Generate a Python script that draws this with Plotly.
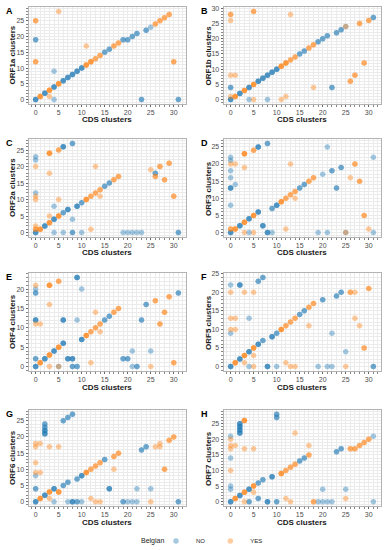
import plotly.graph_objects as go

# ---------------- data: (CDS cluster, ORF cluster, number of overlapping sequences) ----------------
orf1a_no = [(0,0,3),(0,19,2),(2,2,3),(4,4,3),(4,9,1),(4,0,1),(6,6,3),(7,7,3),(8,8,3),(9,9,3),(10,10,3),
            (15,15,2),(16,16,2),(19,19,2),(20,19,2),(21,20,2),(22,21,2),(24,22,2),(25,23,1),(23,0,2),(31,0,2)]
orf1a_yes = [(0,25,2),(5,28,1),(0,12,2),(11,17,1),(3,1,1),(30,12,2),(1,1,3),(3,3,3),(5,5,3),(11,11,3),
             (12,12,3),(13,13,2),(14,14,2),(17,17,2),(18,18,2),(26,24,2),(27,25,2),(28,26,2),(29,27,2)]

orf1b_no = [(0,0,3),(0,4,2),(4,0,1),(8,0,1),(22,4,2),(2,2,3),(4,4,3),(6,6,3),(7,7,3),(8,8,3),(9,9,3),
            (10,10,3),(15,15,2),(16,16,2),(19,19,2),(20,20,2),(21,21,2),(23,22,2),(24,23,2),(25,24,1),(31,27,2)]
orf1b_yes = [(0,28,2),(0,26,1),(5,29,2),(13,28,1),(0,8,1),(1,8,1),(18,4,1),(11,0,1),(12,1,1),(5,0,1),
             (0,1,1),(26,6,2),(27,8,2),(29,12,2),(28,25,2),(30,26,2),(25,24,1),(1,1,3),(3,3,3),(5,5,3),
             (11,11,3),(12,12,3),(13,13,2),(14,14,2),(17,17,2),(18,18,2)]

orf2a_no = [(0,0,3),(0,23,1),(0,22,1),(0,12,1),(6,26,3),(8,27,2),(4,8,1),(8,4,1),(4,0,1),(6,0,1),(8,0,2),
            (10,0,1),(19,0,1),(20,0,1),(21,0,1),(22,0,1),(23,0,1),(31,0,2),(26,18,2),(2,2,3),(4,4,3),
            (6,6,2),(7,7,3),(9,8,3),(10,9,2),(15,14,2),(16,15,2)]
orf2a_yes = [(3,24,3),(5,25,2),(0,20,1),(3,18,1),(0,10,1),(0,11,1),(5,10,1),(0,2,1),(3,5,1),(13,20,1),
             (12,1,1),(25,19,1),(27,20,2),(26,17,2),(28,16,2),(29,21,2),(30,11,2),(1,1,3),(3,3,3),(5,5,3),
             (11,10,3),(12,11,2),(13,12,2),(14,13,2),(17,16,2),(18,17,2),(14,11,1),(0,1,2)]

orf3_no = [(0,0,3),(0,13,3),(0,16,1),(0,18,1),(0,21,1),(0,22,1),(0,8,1),(1,14,1),(6,25,3),(8,26,2),
           (2,2,3),(4,4,3),(6,6,3),(7,2,3),(8,0,3),(9,0,1),(4,0,1),(9,7,2),(10,8,3),(15,13,2),(16,14,2),
           (20,17,1),(22,18,2),(24,19,2),(21,25,1),(23,13,2),(19,0,1),(21,0,1),(25,0,1),(31,22,1),(31,0,1)]
orf3_yes = [(3,23,3),(5,24,2),(0,20,1),(1,20,1),(3,19,1),(13,20,1),(14,10,1),(12,1,1),(3,0,1),(5,0,1),
            (0,1,2),(1,1,3),(3,3,3),(5,5,3),(11,9,3),(12,10,2),(13,11,2),(14,12,2),(17,15,2),(18,16,2),
            (26,16,1),(27,20,2),(28,15,2),(29,5,2),(30,1,1),(25,0,1)]

orf4_no = [(0,0,3),(0,2,2),(0,12,3),(0,19,2),(0,20,1),(2,2,3),(4,4,3),(6,6,3),(5,0,1),(7,2,3),(8,2,3),
           (8,0,2),(9,0,2),(6,12,3),(9,23,3),(10,20,1),(9,12,1),(10,7,3),(15,12,2),(16,13,2),(19,2,2),
           (20,2,2),(21,0,1),(21,4,1),(22,0,2),(23,12,2),(24,16,2),(25,4,1),(31,19,2)]
orf4_yes = [(3,21,3),(5,22,2),(0,21,1),(0,11,1),(1,11,1),(3,16,1),(1,1,3),(3,3,3),(5,5,3),(5,0,1),(3,0,1),
            (12,1,1),(11,8,3),(12,9,2),(13,10,2),(14,11,2),(17,14,2),(18,15,2),(13,14,1),(14,9,1),(25,0,1),
            (26,17,2),(27,11,2),(28,14,2),(29,18,2),(30,1,2)]

orf5_no = [(0,0,3),(0,22,1),(0,9,1),(2,22,3),(6,23,2),(7,24,2),(4,13,1),(4,0,1),(8,0,3),(10,0,1),(2,2,3),
           (4,4,3),(6,6,3),(7,7,2),(9,8,3),(10,9,2),(15,14,2),(16,15,2),(20,18,2),(23,19,2),(24,20,2),
           (22,9,1),(25,4,1),(19,0,1),(21,0,1),(22,0,1),(31,0,2)]
orf5_yes = [(0,20,1),(3,20,1),(5,20,1),(0,13,1),(1,13,1),(0,10,1),(1,10,1),(5,3,1),(3,1,1),(5,0,1),
            (12,1,1),(13,0,1),(14,0,1),(17,11,1),(25,0,1),(26,20,2),(27,20,1),(27,13,1),(28,11,1),(29,5,2),
            (30,21,2),(1,1,3),(3,3,3),(5,5,3),(11,10,3),(12,11,2),(13,12,2),(14,13,2),(17,16,2),(18,17,2)]

orf6_no = [(0,0,3),(0,4,2),(0,8,1),(2,21,3),(2,22,3),(2,23,2),(2,24,2),(6,25,2),(7,26,2),(8,27,2),(2,2,3),
           (4,4,3),(6,5,2),(7,6,2),(9,7,2),(10,8,3),(15,13,2),(16,4,3),(8,0,3),(9,0,2),(7,0,1),(4,0,1),
           (10,0,1),(19,0,2),(20,0,1),(21,0,1),(22,0,1),(22,4,1),(25,4,1),(23,16,2),(24,17,2),(31,0,2)]
orf6_yes = [(0,17,1),(0,18,1),(1,18,1),(0,12,1),(0,9,1),(1,9,1),(3,17,1),(5,17,1),(1,1,3),(3,3,3),(5,3,3),
            (3,1,1),(12,1,1),(13,0,1),(14,0,1),(17,10,1),(25,0,1),(11,9,3),(12,10,2),(13,11,2),(14,12,2),
            (17,14,2),(18,15,2),(26,17,1),(27,17,1),(27,18,1),(28,10,2),(29,19,2),(30,20,2)]

orf7_no = [(0,0,3),(0,21,1),(0,14,1),(0,5,1),(0,4,1),(2,25,3),(2,24,3),(2,23,3),(2,22,3),(10,28,2),
           (10,27,2),(2,2,3),(4,4,3),(6,6,2),(7,7,2),(9,8,3),(15,13,2),(16,14,2),(23,16,2),(24,17,2),
           (31,21,1),(20,4,1),(25,4,1),(19,0,1),(20,0,1),(21,0,1),(22,0,1),(31,0,1),(6,1,2),(8,0,3),
           (10,0,2),(4,0,2)]
orf7_yes = [(3,26,3),(0,20,1),(0,18,1),(0,17,1),(1,18,1),(0,10,1),(3,17,1),(5,17,1),(1,1,3),(3,3,3),
            (5,5,3),(11,9,3),(12,10,2),(13,11,2),(14,12,2),(17,15,2),(17,18,1),(14,22,1),(12,1,1),(13,0,1),
            (5,3,1),(18,0,2),(25,1,1),(3,0,1),(26,17,2),(27,17,2),(28,18,2),(29,19,2),(30,20,2)]

panel_letters = ["A", "B", "C", "D", "E", "F", "G", "H"]
orf_titles = ["ORF1a clusters", "ORF1b clusters", "ORF2a clusters", "ORF3 clusters",
              "ORF4 clusters", "ORF5 clusters", "ORF6 clusters", "ORF7 clusters"]
series_no = [orf1a_no, orf1b_no, orf2a_no, orf3_no, orf4_no, orf5_no, orf6_no, orf7_no]
series_yes = [orf1a_yes, orf1b_yes, orf2a_yes, orf3_yes, orf4_yes, orf5_yes, orf6_yes, orf7_yes]
x_title = "CDS clusters"
legend_title = "Belgian"
group_names = ["NO", "YES"]
group_colors = ["#1f77b4", "#ff7f0e"]

# ---------------- layout geometry (pixels) ----------------
W, H = 389, 550
col_px = [(28.5, 185.5), (223.5, 380.5)]
row_px = [(7, 104), (139, 237), (273, 371), (410, 506)]
ytitle_px = [12, 208]
letter_px = [4, 199]

def expand(points):
    xs, ys = [], []
    for x, y, n in points:
        xs += [x] * n
        ys += [y] * n
    return xs, ys

fig = go.Figure()
annotations = []
grid_col = "#ebebeb"
tick_font = dict(family="Liberation Sans, Arial, sans-serif", size=7, color="#4d4d4d")

for i in range(8):
    r, c = divmod(i, 2)
    ax = "" if i == 0 else str(i + 1)
    x0, x1 = col_px[c]
    top, bot = row_px[r]
    xdom = [x0 / W, x1 / W]
    ydom = [1 - bot / H, 1 - top / H]
    all_x = [p[0] for p in series_no[i] + series_yes[i]]
    all_y = [p[1] for p in series_no[i] + series_yes[i]]
    xmin, xmax = min(all_x), max(all_x)
    ymin, ymax = min(all_y), max(all_y)
    xpad = 0.05 * (xmax - xmin)
    ypad = 0.05 * (ymax - ymin)
    for g, pts in enumerate([series_no[i], series_yes[i]]):
        xs, ys = expand(pts)
        fig.add_trace(go.Scatter(
            x=xs, y=ys, mode="markers", xaxis="x" + ax, yaxis="y" + ax,
            name=group_names[g], legendgroup=group_names[g], showlegend=(i == 0),
            marker=dict(color=group_colors[g], size=5.5, opacity=0.4, line=dict(width=0)),
            hoverinfo="x+y+name"))
    common = dict(showgrid=True, gridcolor=grid_col, gridwidth=0.6, zeroline=False,
                  showline=True, mirror=True, linecolor="#b3b3b3", linewidth=0.8,
                  ticks="outside", ticklen=2, tickcolor="#666666", tickwidth=0.6,
                  tickfont=tick_font, dtick=5, tick0=0,
                  minor=dict(dtick=1, showgrid=True, gridcolor=grid_col, gridwidth=0.5,
                             ticks="outside", ticklen=2, tickcolor="#888888", tickwidth=0.5),
                  automargin=False, fixedrange=True)
    fig.layout["xaxis" + ax] = dict(domain=xdom, anchor="y" + ax,
                                    range=[xmin - xpad, xmax + xpad], **common)
    fig.layout["yaxis" + ax] = dict(domain=ydom, anchor="x" + ax,
                                    range=[ymin - ypad, ymax + ypad], **common)
    # panel letter
    annotations.append(dict(text="<b>%s</b>" % panel_letters[i], xref="paper", yref="paper",
                            x=letter_px[c] / W, y=1 - (top + 4) / H, xanchor="left", yanchor="middle",
                            showarrow=False, font=dict(family="Liberation Sans, Arial", size=9, color="black")))
    # y title
    annotations.append(dict(text="<b>%s</b>" % orf_titles[i], xref="paper", yref="paper",
                            x=ytitle_px[c] / W, y=1 - (top + bot) / 2 / H, xanchor="center", yanchor="middle",
                            textangle=-90, showarrow=False,
                            font=dict(family="Liberation Sans, Arial", size=8, color="#1a1a1a")))
    # x title
    annotations.append(dict(text="<b>%s</b>" % x_title, xref="paper", yref="paper",
                            x=(x0 + x1) / 2 / W, y=1 - (bot + 16) / H, xanchor="center", yanchor="middle",
                            showarrow=False,
                            font=dict(family="Liberation Sans, Arial", size=8, color="#1a1a1a")))

# legend title (as a text label placed left of the legend items)
annotations.append(dict(text=legend_title, xref="paper", yref="paper",
                        x=166 / W, y=1 - 541 / H, xanchor="right", yanchor="middle", showarrow=False,
                        font=dict(family="Liberation Sans, Arial", size=7, color="#1a1a1a")))

fig.update_layout(
    width=W, height=H, margin=dict(l=0, r=0, t=0, b=0, autoexpand=False),
    paper_bgcolor="white", plot_bgcolor="white",
    annotations=annotations,
    showlegend=True,
    legend=dict(orientation="h", x=156 / W, y=1 - 541 / H, xanchor="left", yanchor="middle",
                font=dict(family="Liberation Sans, Arial", size=6, color="#1a1a1a"),
                itemwidth=30, tracegroupgap=0, bgcolor="rgba(0,0,0,0)"),
    font=dict(family="Liberation Sans, Arial, sans-serif"),
)

fig.write_html("out.html", config={"displayModeBar": False},
               post_script="document.body.style.margin='0px';")
